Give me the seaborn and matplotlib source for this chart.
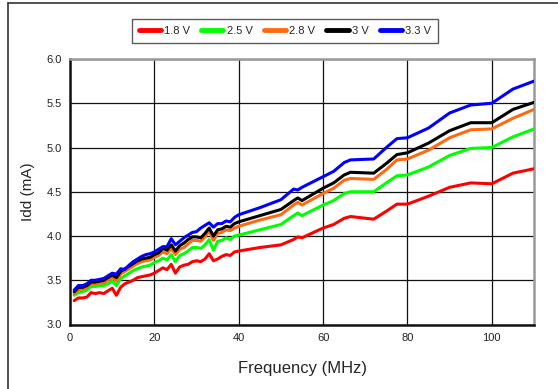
import numpy as np
import pandas as pd
import matplotlib
matplotlib.use("Agg")
import matplotlib.pyplot as plt
import seaborn as sns
from matplotlib.lines import Line2D

freq = [1, 2, 3, 4, 5, 6, 7, 8, 9, 10, 11, 12, 13, 14, 15, 16, 17, 18, 19, 20,
        21, 22, 23, 24, 25, 26, 27, 28, 29, 30, 31, 32, 33, 34, 35, 36, 37, 38, 39, 40,
        45, 50, 53, 54, 55, 60, 62.5, 65, 66.5, 72, 75, 77.5, 80, 85, 90, 95, 100, 105, 110]

idd_1v8 = [3.27, 3.30, 3.30, 3.31, 3.36, 3.35, 3.36, 3.35, 3.38, 3.41, 3.33, 3.42, 3.46, 3.48, 3.50, 3.53, 3.54, 3.55, 3.56, 3.58,
           3.61, 3.64, 3.62, 3.68, 3.58, 3.65, 3.67, 3.68, 3.71, 3.72, 3.71, 3.74, 3.80, 3.72, 3.74, 3.77, 3.79, 3.78, 3.82, 3.83,
           3.87, 3.90, 3.96, 3.99, 3.98, 4.09, 4.13, 4.20, 4.22, 4.19, 4.28, 4.36, 4.36, 4.45, 4.55, 4.60, 4.59, 4.71, 4.76]
idd_2v5 = [3.33, 3.36, 3.37, 3.39, 3.43, 3.43, 3.44, 3.44, 3.46, 3.49, 3.44, 3.52, 3.55, 3.58, 3.61, 3.63, 3.65, 3.66, 3.67, 3.70,
           3.72, 3.75, 3.73, 3.79, 3.71, 3.78, 3.80, 3.83, 3.87, 3.87, 3.86, 3.90, 3.96, 3.84, 3.94, 3.95, 3.98, 3.96, 4.00, 4.01,
           4.07, 4.13, 4.23, 4.26, 4.23, 4.35, 4.40, 4.48, 4.50, 4.50, 4.60, 4.68, 4.69, 4.78, 4.91, 4.99, 5.00, 5.12, 5.21]
idd_2v8 = [3.35, 3.39, 3.40, 3.42, 3.46, 3.46, 3.47, 3.47, 3.50, 3.53, 3.49, 3.57, 3.60, 3.63, 3.66, 3.69, 3.71, 3.72, 3.73, 3.76,
           3.78, 3.82, 3.80, 3.86, 3.79, 3.85, 3.87, 3.91, 3.95, 3.95, 3.94, 3.99, 4.06, 3.95, 4.03, 4.04, 4.07, 4.06, 4.09, 4.11,
           4.18, 4.24, 4.35, 4.38, 4.35, 4.48, 4.54, 4.63, 4.65, 4.64, 4.75, 4.86, 4.87, 4.97, 5.11, 5.20, 5.21, 5.33, 5.43]
idd_3v0 = [3.37, 3.42, 3.42, 3.44, 3.48, 3.48, 3.49, 3.50, 3.53, 3.56, 3.53, 3.60, 3.63, 3.66, 3.69, 3.72, 3.74, 3.75, 3.76, 3.79,
           3.81, 3.86, 3.84, 3.90, 3.83, 3.89, 3.92, 3.96, 3.99, 3.99, 3.98, 4.03, 4.09, 4.00, 4.07, 4.08, 4.11, 4.10, 4.14, 4.16,
           4.23, 4.30, 4.40, 4.43, 4.40, 4.54, 4.60, 4.69, 4.72, 4.71, 4.82, 4.92, 4.94, 5.05, 5.19, 5.28, 5.28, 5.43, 5.51]
idd_3v3 = [3.39, 3.44, 3.44, 3.46, 3.50, 3.50, 3.51, 3.52, 3.55, 3.58, 3.57, 3.63, 3.62, 3.67, 3.71, 3.74, 3.77, 3.79, 3.80, 3.82,
           3.85, 3.88, 3.88, 3.97, 3.90, 3.94, 3.98, 4.01, 4.04, 4.05, 4.09, 4.12, 4.15, 4.10, 4.14, 4.14, 4.17, 4.16, 4.21, 4.24,
           4.32, 4.41, 4.53, 4.52, 4.55, 4.67, 4.73, 4.83, 4.86, 4.87, 5.00, 5.10, 5.11, 5.22, 5.39, 5.48, 5.50, 5.66, 5.75]

labels = ["1.8 V", "2.5 V", "2.8 V", "3 V", "3.3 V"]
colors = ["#ff0000", "#00ff00", "#ff6a10", "#000000", "#0000ff"]
xticks = [0, 20, 40, 60, 80, 100]
yticks = [3.0, 3.5, 4.0, 4.5, 5.0, 5.5, 6.0]

rows = []
for lab, vals in zip(labels, [idd_1v8, idd_2v5, idd_2v8, idd_3v0, idd_3v3]):
    for f, v in zip(freq, vals):
        rows.append({"Frequency": f, "Idd": v, "Vdd": lab})
df = pd.DataFrame(rows)

sns.set_style("white")
plt.rcParams['font.family'] = ['Liberation Sans', 'DejaVu Sans']

fig = plt.figure(figsize=(5.58, 3.89), dpi=100)
ax = fig.add_axes([70 / 558, 1 - 324.5 / 389, (534 - 70) / 558, (324.5 - 59) / 389])

sns.lineplot(data=df, x="Frequency", y="Idd", hue="Vdd", hue_order=labels,
             palette=colors, linewidth=2.2, ax=ax, legend=False, sort=True,
             estimator=None, zorder=3)

ax.set_xlim(0, 110)
ax.set_ylim(3.0, 6.0)
ax.set_xticks(xticks)
ax.set_yticks(yticks)
ax.set_xticklabels([str(t) for t in xticks], fontsize=8)
ax.set_yticklabels([f"{t:.1f}" for t in yticks], fontsize=8)
ax.tick_params(axis="both", length=0, pad=6, colors="#222222")
ax.grid(True, color="#111111", linewidth=0.9)
ax.set_axisbelow(True)
for side in ["left", "bottom"]:
    ax.spines[side].set_color("#111111")
    ax.spines[side].set_linewidth(1.8)
for side in ["top", "right"]:
    ax.spines[side].set_color("#999999")
    ax.spines[side].set_linewidth(1.8)
    ax.spines[side].set_visible(True)

ax.set_xlabel("Frequency (MHz)", fontsize=12, labelpad=13)
ax.set_ylabel("Idd (mA)", fontsize=11, labelpad=8)

handles = [Line2D([0], [0], color=c, linewidth=3.5, solid_capstyle="round") for c in colors]
leg = fig.legend(handles, labels, loc="center", bbox_to_anchor=(285 / 558, 1 - 31 / 389),
                 ncol=5, fontsize=8, frameon=True, fancybox=False, handlelength=2.0,
                 handletextpad=0.3, columnspacing=1.0, borderpad=0.6)
leg.get_frame().set_edgecolor("#333333")
leg.get_frame().set_linewidth(1.0)

# figure border (left and top visible)
fig.add_artist(Line2D([7.5 / 558, 7.5 / 558], [0, 1 - 3 / 389], color="#333333", linewidth=1.2))
fig.add_artist(Line2D([7.5 / 558, 1], [1 - 3 / 389, 1 - 3 / 389], color="#333333", linewidth=1.2))

fig.savefig("out.png", dpi=100)
